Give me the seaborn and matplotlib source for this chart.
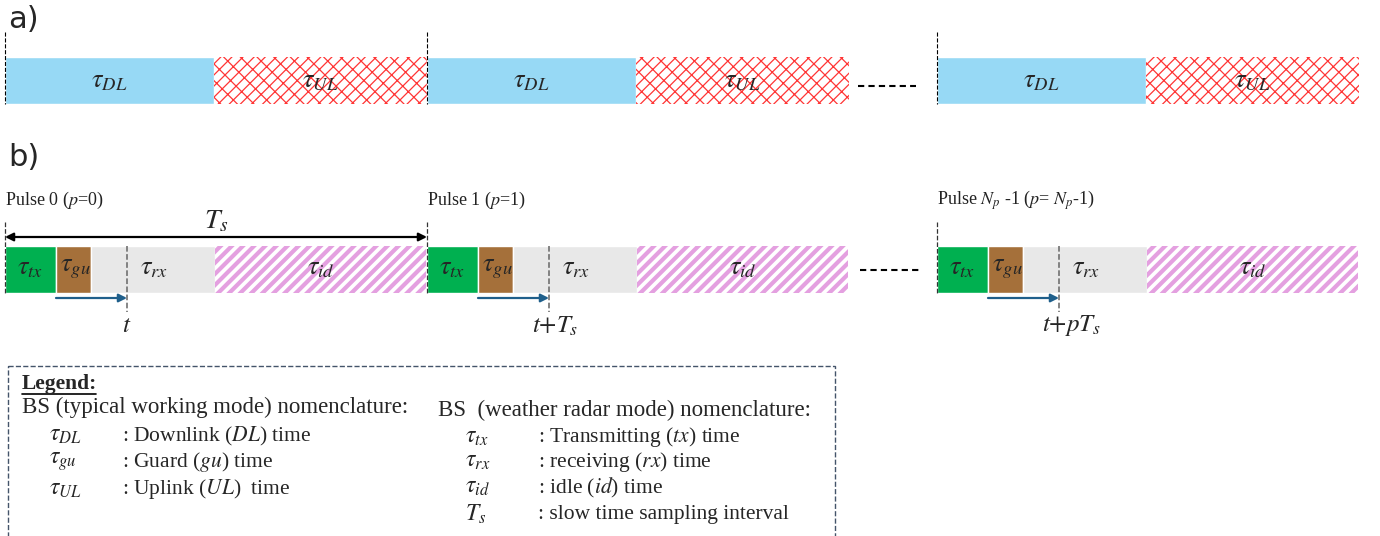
import matplotlib.pyplot as plt
import seaborn as sns
from matplotlib.patches import Rectangle

# ------------------- frame / pulse durations (in pixel-like time units) -------------------
frame_labels = [r'$\tau_{DL}$', r'$\tau_{UL}$']
frame_durations = [209, 213]

pulse_labels = [r'$\tau_{tx}$', r'$\tau_{gu}$', r'$\tau_{rx}$', r'$\tau_{id}$']
pulse_durations = [51, 35, 124, 211]

pulse_names = ['Pulse 0 ($p$=0)', 'Pulse 1 ($p$=1)', 'Pulse $N_p$ -1 ($p$= $N_p$-1)']
sample_labels = [r'$t$', r'$t{+}T_s$', r'$t{+}pT_s$']
t_offset = 122          # sampling instant inside each pulse
period = 422            # T_s
ellipsis_gap = 88       # skipped pulses shown as dashes
origin = 5

legend_left = ['BS (typical working mode) nomenclature:',
               (r'$\tau_{DL}$', ': Downlink ($DL$) time'),
               (r'$\tau_{gu}$', ': Guard ($gu$) time'),
               (r'$\tau_{UL}$', ': Uplink ($UL$)  time')]
legend_right = ['BS  (weather radar mode) nomenclature:',
                (r'$\tau_{tx}$', ': Transmitting ($tx$) time'),
                (r'$\tau_{rx}$', ': receiving ($rx$) time'),
                (r'$\tau_{id}$', ': idle ($id$) time'),
                (r'$T_s$', ': slow time sampling interval')]

sns.set_style('white')
plt.rcParams['font.family'] = ['Liberation Serif', 'DejaVu Serif']
plt.rcParams['mathtext.fontset'] = 'stix'

frame_style = [dict(color='#97D9F5'),
               dict(color='white', edgecolor='#FF3535', hatch='///\\\\', lw=0)]
pulse_style = [dict(color='#00B050'), dict(color='#A5703A'), dict(color='#E8E8E8'),
               dict(color='white', edgecolor='#E4A0E0', hatch='///', lw=0)]

fig = plt.figure(figsize=(13.8, 5.36), dpi=100)
ax = fig.add_axes([0, 0, 1, 1])
ax.set_xlim(0, 1380)
ax.set_ylim(536, 0)
ax.axis('off')

starts = [origin, origin + period, origin + 2 * period + ellipsis_gap]

# ------------------- a) typical working mode -------------------
ya, hb = 80.5, 47
for s in starts:
    left = s
    for lab, d, st in zip(frame_labels, frame_durations, frame_style):
        bar = ax.barh(ya, d, left=left, height=hb, **st)
        for p in bar:
            if st.get('hatch'):
                p.set_hatch_linewidth(0.9)
        ax.text(left + d / 2, ya + 2, lab, ha='center', va='center', fontsize=19)
        left += d
    ax.plot([s, s], [32, ya + hb / 2], ls='--', color='black', lw=0.8, zorder=5)
ax.plot([858, 916], [86, 86], ls='--', color='black', lw=1.5, dashes=(3, 2))
ax.text(8, 20, 'a)', fontsize=22, family='DejaVu Sans', va='center')

# ------------------- b) weather radar mode -------------------
yb = 269.5
for i, s in enumerate(starts):
    left = s
    for lab, d, st in zip(pulse_labels, pulse_durations, pulse_style):
        bar = ax.barh(yb, d, left=left, height=hb, **st)
        for p in bar:
            if st.get('hatch'):
                p.set_hatch_linewidth(3.0)
        xt = left + d / 2 if lab != r'$\tau_{gu}$' else left + d / 2 + 2
        if lab == r'$\tau_{rx}$':
            xt = left + 63
        ax.text(xt, yb, lab, ha='center', va='center', fontsize=19)
        left += d
    ax.plot([s, s], [222, yb + hb / 2], ls='--', color='#333333', lw=0.9, zorder=5)
    tx = s + t_offset
    ax.plot([tx, tx], [yb - hb / 2, 312], ls='--', color='#666666', lw=1.1, zorder=5)
    ax.annotate('', xy=(tx, 298), xytext=(s + pulse_durations[0], 298),
                arrowprops=dict(arrowstyle='-|>', color='#1F5F8B', lw=1.6,
                                mutation_scale=12, shrinkA=0, shrinkB=0))
    ax.text(tx + [0, 6, 12][i], 326, sample_labels[i],
            ha='center', va='center', fontsize=18)
    ax.text(s, 200, pulse_names[i], ha='left', va='center', fontsize=13, color='#222222')

ax.annotate('', xy=(starts[1], 237), xytext=(starts[0], 237),
            arrowprops=dict(arrowstyle='<|-|>', color='black', lw=1.6,
                            mutation_scale=12, shrinkA=0, shrinkB=0))
ax.text((starts[0] + starts[1]) / 2, 222, r'$T_s$', ha='center', va='center', fontsize=20)
ax.plot([860, 920], [270, 270], ls='--', color='black', lw=1.5, dashes=(3, 2))
ax.text(8, 158, 'b)', fontsize=22, family='DejaVu Sans', va='center')

# ------------------- legend box -------------------
ax.add_patch(Rectangle((8, 366), 827, 200, fill=False, ls='--', lw=1.0,
                       edgecolor='#44546A', clip_on=True))
ax.text(22, 384, 'Legend:', fontsize=15.5, weight='bold', va='center')
ax.plot([22, 96], [394, 394], color='black', lw=1.2)


def legend_column(x, y0, rows, ys):
    ax.text(x, y0, rows[0], fontsize=16.5, va='center')
    for (sym, desc), y in zip(rows[1:], ys):
        ax.text(x + 27, y, sym, fontsize=17, va='center')
        ax.text(x + 100, y, desc, fontsize=15.5, va='center')


legend_column(22, 407, legend_left, [436, 462, 489])
legend_column(438, 410, legend_right, [437, 462, 488, 514])

fig.savefig('out.png', dpi=100)
